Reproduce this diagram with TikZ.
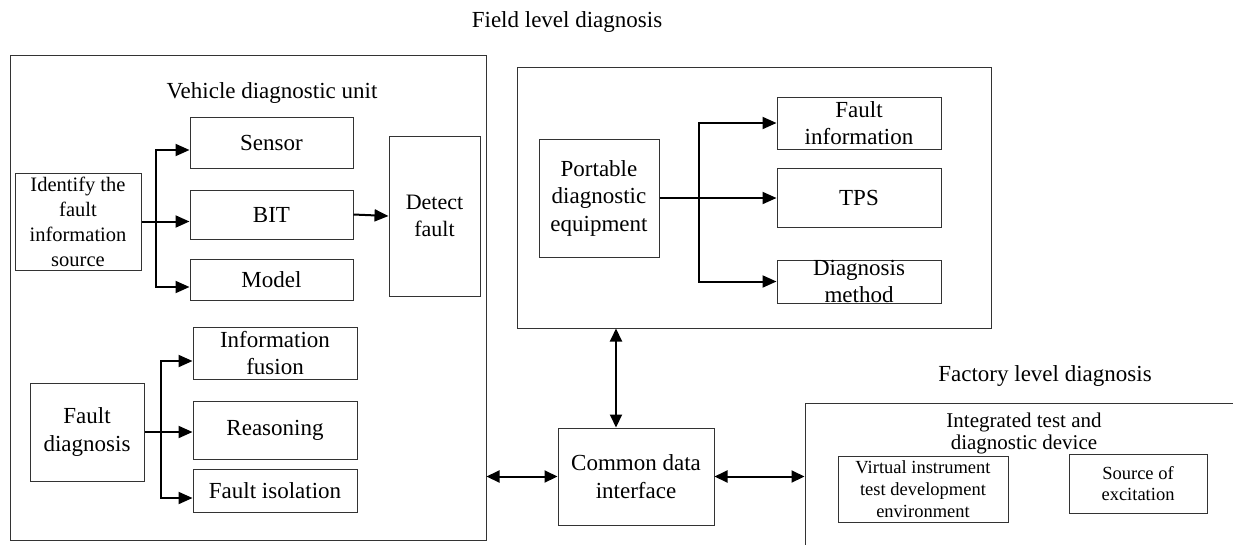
\documentclass[tikz,border=0pt]{standalone}
\usepackage{fontspec}
\setmainfont{Liberation Serif}
\usetikzlibrary{arrows.meta,calc}
\tikzset{
  bx/.style={draw=black!80, line width=1pt, inner sep=0pt, align=center, font=\fontsize{23}{27.5}\selectfont},
  cont/.style={draw=black!80, line width=1pt, inner sep=0pt},
  arr/.style={line width=2pt, -{Triangle[length=14pt,width=12pt]}},
  darr/.style={line width=2pt, {Triangle[length=13pt,width=12pt]}-{Triangle[length=13pt,width=12pt]}},
  ttl/.style={font=\fontsize{23}{27.5}\selectfont, anchor=base, inner sep=0pt},
}
\begin{document}
\begin{tikzpicture}[x=1pt,y=-1pt]
\useasboundingbox (0,0) rectangle (1233,544);
% containers
\node[cont, minimum width=476pt, minimum height=485pt] (veh) at (248,297.5) {};
\node[cont, minimum width=474pt, minimum height=261pt] (field) at (754,197.5) {};
\node[cont, minimum width=450pt, minimum height=160pt] (fac) at (1030,483) {};
% titles
\node[ttl] (t1) at (567,27) {Field level diagnosis};
\node[ttl] (t2) at (272,98) {Vehicle diagnostic unit};
\node[ttl] (t3) at (1045,381) {Factory level diagnosis};
\node[font=\fontsize{21}{22}\selectfont, align=center, inner sep=0pt] (t4) at (1024,433) {Integrated test and\\diagnostic device};
% vehicle unit
\node[bx, minimum width=163pt, minimum height=51pt] (sensor) at (271.5,142.5) {Sensor};
\node[bx, minimum width=163pt, minimum height=49pt] (bit) at (271.5,214.5) {BIT};
\node[bx, minimum width=163pt, minimum height=41pt] (model) at (271.5,279.5) {Model};
\node[bx, minimum width=126pt, minimum height=97pt, font=\fontsize{20.5}{25}\selectfont] (idf) at (78,221.5) {Identify the\\fault\\information\\source};
\node[bx, minimum width=91pt, minimum height=160pt, font=\fontsize{22}{26.5}\selectfont] (det) at (434.5,216) {Detect\\fault};
\node[bx, minimum width=164pt, minimum height=52pt] (inf) at (275,353) {Information\\fusion};
\node[bx, minimum width=164pt, minimum height=58pt] (rea) at (275,430) {Reasoning};
\node[bx, minimum width=164pt, minimum height=43pt] (iso) at (275,490.5) {Fault isolation};
\node[bx, minimum width=114pt, minimum height=98pt] (fd) at (87,432) {Fault\\diagnosis};
% field level
\node[bx, minimum width=120pt, minimum height=118pt] (port) at (599,198) {Portable\\diagnostic\\equipment};
\node[bx, minimum width=164pt, minimum height=52pt] (fi) at (859,123) {Fault\\information};
\node[bx, minimum width=164pt, minimum height=59pt] (tps) at (859,197.5) {TPS};
\node[bx, minimum width=164pt, minimum height=43pt] (dm) at (859,281.5) {};
\node[align=center, inner sep=0pt, font=\fontsize{23}{27}\selectfont] (dmt) at (dm.center) {Diagnosis\\method};
% common
\node[bx, minimum width=156pt, minimum height=97pt] (cdi) at (636,476.5) {Common data\\interface};
% factory
\node[bx, minimum width=170pt, minimum height=66pt, font=\fontsize{18.5}{21.7}\selectfont] (vi) at (923,489) {Virtual instrument\\test development\\environment};
\node[bx, minimum width=138pt, minimum height=59pt, font=\fontsize{18.5}{21.7}\selectfont] (src) at (1138,483.5) {Source of\\excitation};
% connectors
\coordinate (jx) at (156,0);
\coordinate (j2) at (idf.east -| jx);
\draw[arr] (idf.east) -- (idf.east -| bit.west);
\draw[arr] (j2) |- ($(sensor.west)+(0,7.5)$);
\draw[arr] (j2) |- ($(model.west)+(0,7.5)$);
\draw[arr] (bit.east) -- (det.west);
\coordinate (kx) at (161,0);
\coordinate (k2) at (fd.east -| kx);
\draw[arr] (fd.east) -- (fd.east -| rea.west);
\draw[arr] (k2) |- ($(inf.west)+(0,8)$);
\draw[arr] (k2) |- ($(iso.west)+(0,7.5)$);
\coordinate (px) at (699,0);
\coordinate (p2) at (port.east -| px);
\draw[arr] (port.east) -- (port.east -| tps.west);
\draw[arr] (p2) |- (fi.west);
\draw[arr] (p2) |- (dm.west);
\coordinate (vx) at (616,0);
\draw[darr] (field.south -| vx) -- (cdi.north -| vx);
\draw[darr] (cdi.west -| veh.east) -- (cdi.west);
\draw[darr] (cdi.east) -- (cdi.east -| fac.west);
\end{tikzpicture}
\end{document}
